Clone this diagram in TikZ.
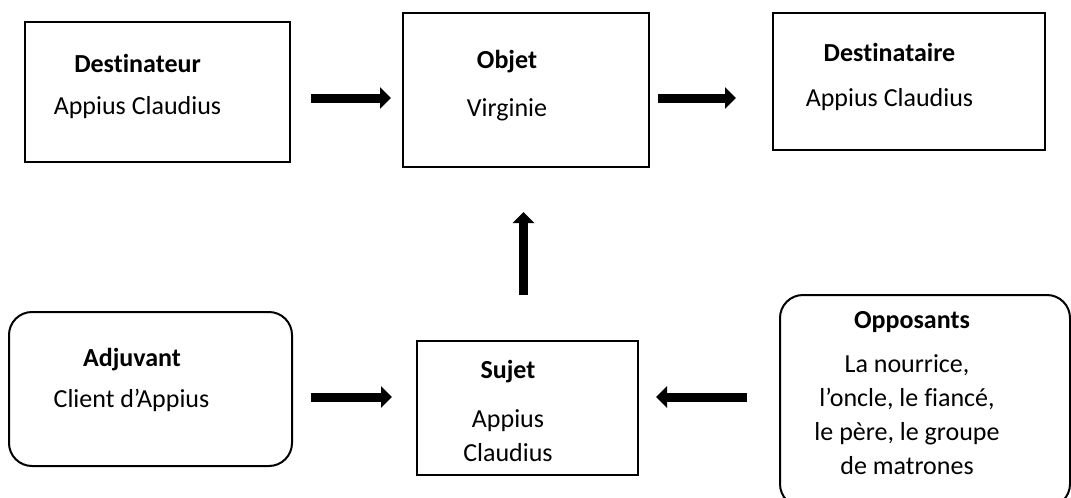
\documentclass[tikz,border=0pt]{standalone}
\usepackage{fontspec}
\setmainfont{Carlito}[Ligatures=NoCommon]
\usepackage{tikz}
\usetikzlibrary{arrows.meta}

\begin{document}
\begin{tikzpicture}[x=0.5pt,y=-0.5pt]
\tikzstyle{every node}+=[inner sep=0pt]
\tikzstyle{box}=[draw=black,line width=1pt,rectangle]
\tikzstyle{rbox}=[box,rounded corners=11.5pt]
\tikzstyle{head}=[font=\fontsize{13}{17}\selectfont\bfseries]
\tikzstyle{body}=[font=\fontsize{13}{17}\selectfont,align=center]
\tikzstyle{fat}=[line width=4.5pt,-{Triangle[width=10.5pt,length=5.5pt]}]
\useasboundingbox (0,0) rectangle (1071,498);
% boxes
\node [box,minimum width=132.5pt,minimum height=70pt] (dest) at (157.5,92) {};
\node [box,minimum width=123pt,minimum height=77pt] (obj) at (526,90) {};
\node [box,minimum width=136pt,minimum height=68.5pt] (dtaire) at (909,81.5) {};
\node [rbox,minimum width=141.5pt,minimum height=77pt] (adj) at (150.5,389) {};
\node [box,minimum width=110.5pt,minimum height=67pt] (suj) at (527.5,408) {};
\node [rbox,minimum width=145pt,minimum height=106pt] (opp) at (925,401) {};
% texts
\node [head] (dest-h) at (137.5,63) {Destinateur};
\node [body] (dest-b) at (137.5,108) {Appius Claudius};
\node [head] (obj-h) at (507,62) {Objet};
\node [body] (obj-b) at (507,110) {Virginie};
\node [head] (dtaire-h) at (889.5,52) {Destinataire};
\node [body] (dtaire-b) at (889.5,100) {Appius Claudius};
\node [head] (adj-h) at (132,360) {Adjuvant};
\node [body] (adj-b) at (131.5,400) {Client d’Appius};
\node [head] (suj-h) at (508,372) {Sujet};
\node [body] (suj-b) at (508,436) {Appius\\Claudius};
\node [head] (opp-h) at (912,322) {Opposants};
\node [body] (opp-b) at (907,415) {La nourrice,\\l’oncle, le fiancé,\\le père, le groupe\\de matrones};
% arrows
\draw [fat] ([xshift=10pt,yshift=-3pt]dest.east) -- ([xshift=-5.5pt,yshift=-4pt]obj.west);
\draw [fat] ([xshift=4pt,yshift=-4pt]obj.east) -- ([xshift=-18pt,yshift=-8.25pt]dtaire.west);
\draw [fat] ([xshift=-2pt,yshift=22.5pt]suj.north) -- ([xshift=-1.25pt,yshift=-22pt]obj.south);
\draw [fat] ([xshift=9pt,yshift=-4pt]adj.east) -- ([xshift=-12pt,yshift=5.5pt]suj.west);
\draw [fat] ([xshift=-16pt,yshift=2pt]opp.west) -- ([xshift=8.5pt,yshift=5.5pt]suj.east);
\end{tikzpicture}
\end{document}
